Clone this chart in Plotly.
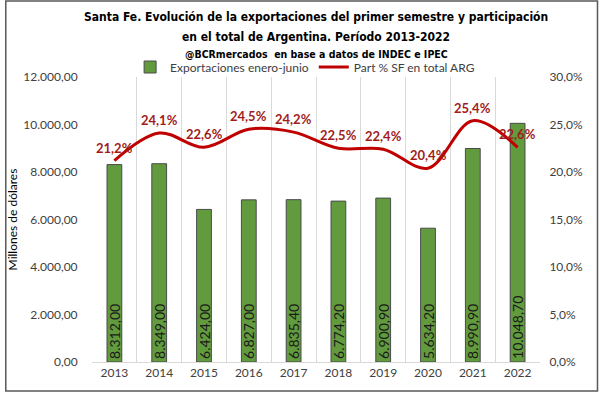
import plotly.graph_objects as go

years = ["2013", "2014", "2015", "2016", "2017", "2018", "2019", "2020", "2021", "2022"]
exports = [8312.00, 8349.00, 6424.00, 6827.00, 6835.40, 6774.20, 6900.90, 5634.20, 8990.90, 10048.70]
share_pct = [21.2, 24.1, 22.6, 24.5, 24.2, 22.5, 22.4, 20.4, 25.4, 22.6]
left_ticks = [0, 2000, 4000, 6000, 8000, 10000, 12000]
right_ticks = [0, 0.05, 0.10, 0.15, 0.20, 0.25, 0.30]
title_lines = [
    "Santa Fe. Evolución de la exportaciones del primer semestre y participación",
    "en el total de Argentina. Período 2013-2022",
    "@BCRmercados  en base a datos de INDEC e IPEC",
]

share = [v / 100 for v in share_pct]

W, H = 600, 393
ML, MR, MT, MB = 88, 60, 77, 31
PW, PH = W - ML - MR, H - MT - MB

body_font = "Lato, Open Sans, sans-serif"
title_font = "DejaVu Sans Condensed, Roboto, sans-serif"


def py(pix):
    return (H - MB - pix) / PH


fig = go.Figure()
fig.add_trace(go.Bar(
    x=years, y=exports, name="Exportaciones enero-junio",
    marker=dict(color="#629B3E", line=dict(color="#4A4A4A", width=1)),
    texttemplate="%{y:,.2f}", textposition="inside", insidetextanchor="start",
    textangle=-90, constraintext="none",
    textfont=dict(family=body_font, size=14, color="#1A1A1A"),
    yaxis="y",
))
fig.add_trace(go.Scatter(
    x=years, y=share, name="Part % SF en total ARG",
    mode="lines", line=dict(color="#C00000", width=3, shape="spline", smoothing=1.0),
    yaxis="y2",
))

title_sizes = [12, 12, 10.5]
title_pix = [17, 37, 54]
annotations = [
    dict(x=0.5, y=py(p), xref="paper", yref="paper", text=f"<b>{t}</b>",
         showarrow=False, xanchor="center", yanchor="middle",
         font=dict(family=title_font, size=s, color="black"))
    for t, s, p in zip(title_lines, title_sizes, title_pix)
]
# category axis: annotation x given as category index
annotations += [
    dict(x=i, y=v, xref="x", yref="y2", text=f"{p:.1f}%".replace(".", ","),
         showarrow=False, yshift=13, yanchor="middle", xanchor="center",
         font=dict(family=body_font, size=13, color="#A01C1C", weight="bold"))
    for i, (v, p) in enumerate(zip(share, share_pct))
]

fig.update_layout(
    width=W, height=H,
    margin=dict(l=ML, r=MR, t=MT, b=MB),
    paper_bgcolor="white", plot_bgcolor="white",
    separators=",.",
    bargap=0.67,
    font=dict(family=body_font, color="#404040", size=12),
    legend=dict(
        orientation="h", x=(303 - ML) / PW, xanchor="center", y=py(67), yanchor="middle",
        font=dict(family=body_font, size=12, color="#404040"),
        itemwidth=30, tracegroupgap=0, bgcolor="rgba(0,0,0,0)",
    ),
    xaxis=dict(
        type="category", tickson="boundaries", showgrid=True, gridcolor="#D9D9D9",
        ticks="outside", ticklen=10, tickcolor="rgba(0,0,0,0)",
        showline=True, linecolor="#D9D9D9", range=[-0.5, len(years) - 0.5],
        tickfont=dict(size=12, color="#404040"),
    ),
    yaxis=dict(
        range=[0, 12000], tickvals=left_ticks, tickformat=",.2f",
        showgrid=False, zeroline=False,
        ticks="outside", ticklen=11, tickcolor="rgba(0,0,0,0)",
        title=dict(text="Millones de dólares", font=dict(size=12, color="black"), standoff=3),
        tickfont=dict(size=12, color="#404040"),
    ),
    yaxis2=dict(
        range=[0, 0.30], tickvals=right_ticks, tickformat=".1%",
        overlaying="y", side="right", showgrid=False, zeroline=False,
        ticks="outside", ticklen=6, tickcolor="rgba(0,0,0,0)",
        tickfont=dict(size=12, color="#404040"),
    ),
    annotations=annotations,
    shapes=[dict(
        type="rect", xref="paper", yref="paper",
        x0=(1 - ML) / PW, x1=(W - 2 - ML) / PW,
        y0=py(H - 2), y1=py(1),
        line=dict(color="#595959", width=1.5), fillcolor="rgba(0,0,0,0)", layer="below",
    )],
)

fig.write_html("out.html", config={"displayModeBar": False},
               post_script="document.body.style.margin='0';")
